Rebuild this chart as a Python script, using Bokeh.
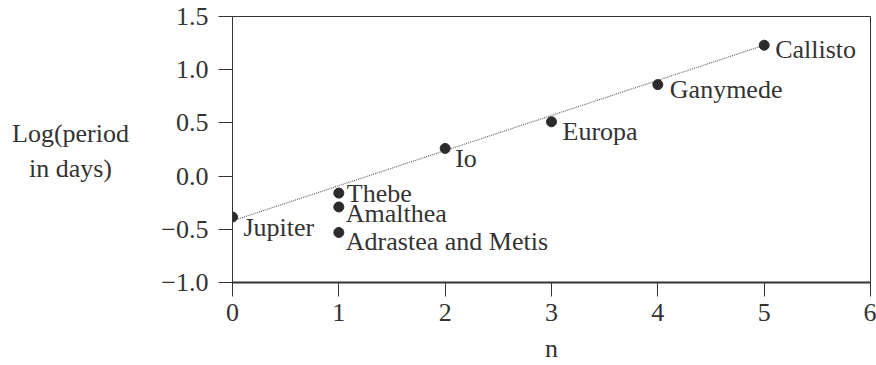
from bokeh.plotting import figure
from bokeh.layouts import row
from bokeh.models import Range1d, FixedTicker, ColumnDataSource
from bokeh.embed import file_html
from bokeh.resources import INLINE
from bokeh.core.properties import value

# ---- data ----
n_values = [0, 1, 1, 1, 2, 3, 4, 5]
log_period = [-0.385, -0.16, -0.29, -0.53, 0.26, 0.51, 0.86, 1.23]
body_names = ["Jupiter", "Thebe", "Amalthea", "Adrastea and Metis",
              "Io", "Europa", "Ganymede", "Callisto"]
fit_n = [0, 5]
fit_log = [-0.42, 1.23]
x_ticks = [0, 1, 2, 3, 4, 5, 6]
x_tick_labels = ["0", "1", "2", "3", "4", "5", "6"]
y_ticks = [-1.0, -0.5, 0.0, 0.5, 1.0, 1.5]
y_tick_labels = ["\u22121.0", "\u22120.5", "0.0", "0.5", "1.0", "1.5"]
y_title_lines = ["Log(period", "in days)"]
x_title = "n"

# ---- style ----
FONT = "Liberation Serif"
FS = "26px"
INK = "#333333"
W, H = 876, 365
LEFT_W = 150
label_dx = [11, 8, 7, 7, 10, 11, 12, 11]
label_dy = [10, 0, 7, 9, 10, 10, 5, 4]
title_x = [70, 70]          # strip pixels
title_y = [0.404, 0.075]    # text centres, in the shared y scale

y_range = Range1d(-1.0, 1.5)

# left strip holding the horizontal y-axis title (frames align in a row)
t = figure(width=LEFT_W, height=H, output_backend="svg", toolbar_location=None,
           x_range=Range1d(0, LEFT_W), y_range=y_range,
           x_axis_location=None, y_axis_location=None,
           min_border=0)
t.outline_line_color = None
t.grid.visible = False
t.background_fill_color = "white"
t.border_fill_color = "white"
t.text(x=title_x, y=title_y, text=y_title_lines,
       text_font=value(FONT), text_font_size=FS, text_color=INK,
       text_align="center", text_baseline="middle")

p = figure(width=W - LEFT_W, height=H, output_backend="svg",
           toolbar_location=None,
           x_range=Range1d(0, 6), y_range=y_range,
           min_border_left=232 - LEFT_W, min_border_right=6,
           min_border_top=16, min_border_bottom=H - 282)
p.background_fill_color = "white"
p.border_fill_color = "white"
p.grid.visible = False
p.outline_line_color = INK
p.outline_line_width = 1

for ax in (p.xaxis[0], p.yaxis[0]):
    ax.major_tick_in = 0
    ax.major_tick_out = 14
    ax.minor_tick_out = 0
    ax.minor_tick_in = 0
    ax.major_tick_line_color = INK
    ax.axis_line_color = INK
    ax.major_label_text_font = FONT
    ax.major_label_text_font_size = FS
    ax.major_label_text_color = INK

p.xaxis.ticker = FixedTicker(ticks=x_ticks)
p.xaxis.major_label_overrides = {t_: l for t_, l in zip(x_ticks, x_tick_labels)}
p.yaxis.ticker = FixedTicker(ticks=y_ticks)
p.yaxis.major_label_overrides = {t_: l for t_, l in zip(y_ticks, y_tick_labels)}
p.xaxis.axis_line_width = 2
p.yaxis.axis_line_width = 1
p.xaxis.major_label_standoff = 7
p.yaxis.major_label_standoff = 10

p.xaxis.axis_label = x_title
p.xaxis.axis_label_text_font = FONT
p.xaxis.axis_label_text_font_size = FS
p.xaxis.axis_label_text_font_style = "normal"
p.xaxis.axis_label_text_color = INK
p.xaxis.axis_label_standoff = 10

# fitted line
p.line(fit_n, fit_log, line_color="#666666", line_width=1.2, line_dash="1 1")

src = ColumnDataSource(dict(x=n_values, y=log_period, name=body_names,
                            dx=label_dx, dy=label_dy))
p.scatter("x", "y", source=src, size=10, fill_color="#2b2b2b",
          line_color="#2b2b2b")
p.text("x", "y", text="name", source=src, x_offset="dx", y_offset="dy",
       text_font=value(FONT), text_font_size=FS, text_color=INK,
       text_align="left", text_baseline="middle")

layout = row(t, p, spacing=0)
open("out.html", "w").write(file_html(layout, INLINE))
